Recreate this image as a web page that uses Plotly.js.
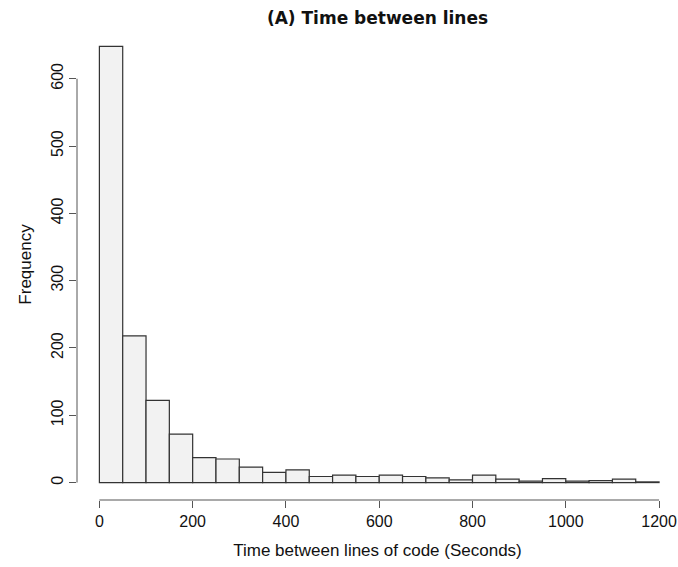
<!DOCTYPE html>
<html>
<head>
<meta charset="utf-8">
<script src="https://cdn.plot.ly/plotly-3.0.1.min.js"></script>
<style>html,body{margin:0;padding:0;background:#fff;}#chart{width:678px;height:567px;}</style>
</head>
<body>
<div id="chart"></div>
<script>
// Histogram bins (seconds), width 50
var binStarts = [0,50,100,150,200,250,300,350,400,450,500,550,600,650,700,750,800,850,900,950,1000,1050,1100,1150];
var binWidth = 50;
var counts = [648,218,122,72,37,35,23,15,19,9,11,9,11,9,7,4,11,5,2,6,2,3,5,1];
var xTicks = [0,200,400,600,800,1000,1200];
var yTicks = [0,100,200,300,400,500,600];

var trace = {
  type: 'bar',
  x: binStarts,
  y: counts,
  width: binStarts.map(function(){return binWidth;}),
  offset: 0,
  marker: {color: '#f2f2f2', line: {color: '#333333', width: 1.2}},
  hoverinfo: 'skip'
};

var layout = {
  width: 678, height: 567,
  margin: {l: 76.5, r: 0, t: 28.5, b: 66.8},
  paper_bgcolor: '#ffffff', plot_bgcolor: '#ffffff',
  showlegend: false,
  bargap: 0,
  font: {family: 'Liberation Sans, Arial, sans-serif', size: 16, color: '#111'},
  title: {text: '<b>(A) Time between lines</b>', x: 0.5, xref: 'paper', y: 0.968, yref: 'container', yanchor: 'middle',
          font: {family: 'DejaVu Sans, sans-serif', size: 17, color: '#111'}},
  xaxis: {
    range: [-48, 1240.6], showgrid: false, zeroline: false, showline: false,
    tickmode: 'array', tickvals: xTicks, ticktext: xTicks.map(String),
    ticks: 'outside', ticklen: 7, tickwidth: 1, tickcolor: '#555',
    tickfont: {size: 16, color: '#111'},
    title: {text: 'Time between lines of code (Seconds)', standoff: 14, font: {size: 17, color: '#111'}}
  },
  yaxis: {
    range: [-25.9, 673.9], showgrid: false, zeroline: false, showline: false,
    tickmode: 'array', tickvals: yTicks, ticktext: yTicks.map(String),
    ticks: 'outside', ticklen: 7, tickwidth: 1, tickcolor: '#555',
    tickangle: -90,
    tickfont: {size: 16, color: '#111'},
    title: {text: 'Frequency', standoff: 12, font: {size: 17, color: '#111'}}
  },
  shapes: [
    {type: 'line', xref: 'x', yref: 'paper', x0: xTicks[0], x1: xTicks[xTicks.length-1], y0: 0, y1: 0,
     line: {color: '#555', width: 1}},
    {type: 'line', xref: 'paper', yref: 'y', x0: 0, x1: 0, y0: yTicks[0], y1: yTicks[yTicks.length-1],
     line: {color: '#555', width: 1}}
  ]
};

Plotly.newPlot('chart', [trace], layout, {displayModeBar: false, staticPlot: true});
</script>
</body>
</html>
